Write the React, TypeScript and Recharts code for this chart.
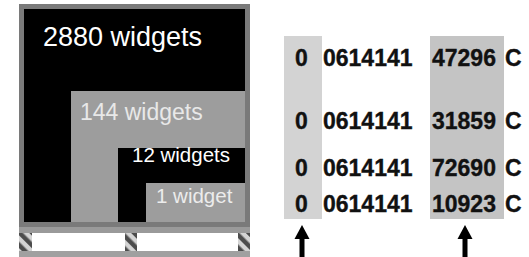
import React from 'react';
import { ScatterChart, Scatter, XAxis, YAxis, ReferenceArea } from 'recharts';

// ---------------------------------------------------------------------------
// Data
// ---------------------------------------------------------------------------

const packLabels = ['2880 widgets', '144 widgets', '12 widgets', '1 widget'];

const indicatorDigits = ['0', '0', '0', '0'];
const companyPrefix = ['0614141', '0614141', '0614141', '0614141'];
const itemReference = ['47296', '31859', '72690', '10923'];
const checkDigit = ['C', 'C', 'C', 'C'];

// columns the arrows point at (indicator digit, item reference)
const highlightedColumns = [0, 2];

// ---------------------------------------------------------------------------
// Layout (drawing units == px, axes hidden)
// ---------------------------------------------------------------------------

const W = 529;
const H = 257;
const BORDER = 5;
const CASE_RIGHT = 250;
const CASE_BOTTOM = 227;
const boxCorners = [
  [19, 4],
  [66, 86],
  [113, 143],
  [141, 178],
];
const boxFills = ['#000000', '#9d9d9d', '#000000', '#9d9d9d'];
const labelPos = [
  { x: 43, y: 46, size: 27, fill: '#ffffff' },
  { x: 80, y: 120, size: 23, fill: '#e8e8e8' },
  { x: 132, y: 162, size: 20.5, fill: '#ffffff' },
  { x: 156, y: 203, size: 20.5, fill: '#ececec' },
];

const colX = [295, 323, 432, 505];
const rowBaseline = [66, 129, 176, 212];
const colBands = [
  { x1: 284, x2: 322, fill: '#d3d3d3' },
  { x1: 430, x2: 504, fill: '#c4c4c4' },
];
const arrowTipY = 225;
const arrowX = [302, 465];

const palletPosts = [
  [19, 32],
  [125, 137],
  [238, 250],
];

const columns = [indicatorDigits, companyPrefix, itemReference, checkDigit];
const cellPoints = rowBaseline.flatMap((y, r) =>
  columns.map((col, c) => ({ x: colX[c], y, text: col[r] })),
);
const labelPoints = packLabels.map((text, i) => ({ ...labelPos[i], text }));
const arrowPoints = highlightedColumns.map((_, i) => ({ x: arrowX[i], y: arrowTipY }));

const FONT = '"Liberation Sans", Arial, sans-serif';

function CellText(props: any) {
  const { cx, cy, payload } = props;
  return (
    <text
      x={cx}
      y={cy}
      fontFamily={FONT}
      fontWeight="bold"
      fontSize={23}
      fill="#111"
      stroke="#111"
      strokeWidth={0.35}
    >
      {payload.text}
    </text>
  );
}

function PackLabel(props: any) {
  const { cx, cy, payload } = props;
  return (
    <text x={cx} y={cy} fontFamily={FONT} fontSize={payload.size} fill={payload.fill}>
      {payload.text}
    </text>
  );
}

function Arrow(props: any) {
  const { cx, cy } = props;
  return (
    <g>
      <polygon points={`${cx},${cy} ${cx - 7.5},${cy + 14} ${cx + 7.5},${cy + 14}`} fill="#000" />
      <rect x={cx - 2.5} y={cy + 12} width={5} height={40} fill="#000" />
    </g>
  );
}

export default function App() {
  return (
    <div style={{ position: 'absolute', left: 0, top: 0, width: W, height: H, background: '#fff' }}>
      <ScatterChart width={W} height={H} margin={{ top: 0, right: 0, bottom: 0, left: 0 }}>
        <defs>
          <pattern id="hatch" width="9" height="9" patternUnits="userSpaceOnUse" patternTransform="rotate(-45)">
            <rect width="9" height="9" fill="#d4d4d4" />
            <rect width="4.5" height="9" fill="#4c4c4c" />
          </pattern>
        </defs>
        <XAxis type="number" dataKey="x" domain={[0, W]} hide />
        <YAxis type="number" dataKey="y" domain={[0, H]} reversed hide />

        {/* nested cases */}
        {boxCorners.map(([x, y], i) => (
          <ReferenceArea
            key={`b${i}`}
            x1={x}
            x2={CASE_RIGHT}
            y1={y}
            y2={CASE_BOTTOM}
            fill="#7a7a7a"
            fillOpacity={1}
            stroke="none"
            ifOverflow="visible"
          />
        ))}
        {boxCorners.map(([x, y], i) => (
          <ReferenceArea
            key={`f${i}`}
            x1={x + BORDER}
            x2={CASE_RIGHT - BORDER}
            y1={y + BORDER}
            y2={CASE_BOTTOM - BORDER}
            fill={boxFills[i]}
            fillOpacity={1}
            stroke="none"
            ifOverflow="visible"
          />
        ))}

        {/* pallet */}
        <ReferenceArea x1={19} x2={250} y1={227} y2={233} fill="#9a9a9a" fillOpacity={1} stroke="none" ifOverflow="visible" />
        <ReferenceArea x1={19} x2={250} y1={251} y2={257} fill="#a0a0a0" fillOpacity={1} stroke="none" ifOverflow="visible" />
        {palletPosts.map(([a, b], i) => (
          <ReferenceArea
            key={`p${i}`}
            x1={a}
            x2={b}
            y1={233}
            y2={251}
            fill="url(#hatch)"
            fillOpacity={1}
            stroke="none"
            ifOverflow="visible"
          />
        ))}

        {/* highlighted code columns */}
        {colBands.map((band, i) => (
          <ReferenceArea
            key={`c${i}`}
            x1={band.x1}
            x2={band.x2}
            y1={36}
            y2={219}
            fill={band.fill}
            fillOpacity={1}
            stroke="none"
            ifOverflow="visible"
          />
        ))}

        <Scatter data={labelPoints} dataKey="y" shape={PackLabel} isAnimationActive={false} />
        <Scatter data={cellPoints} dataKey="y" shape={CellText} isAnimationActive={false} />
        <Scatter data={arrowPoints} dataKey="y" shape={Arrow} isAnimationActive={false} />
      </ScatterChart>
    </div>
  );
}
